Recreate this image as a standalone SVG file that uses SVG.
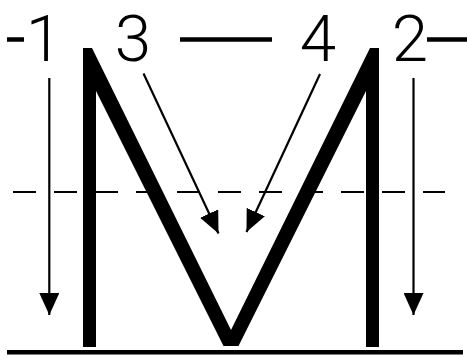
<svg xmlns="http://www.w3.org/2000/svg" width="467" height="358" viewBox="0 0 467 358">
  <style>
    .num { font-family: Roboto, "Liberation Sans", sans-serif; font-weight: 300; font-size: 65.5px; fill: #000; text-anchor: middle; }
    .dash { stroke: #000; stroke-width: 4.5; fill: none; }
    .arrow { stroke: #000; stroke-width: 2.2; fill: none; marker-end: url(#head); }
    .guide { stroke: #000; stroke-width: 2; stroke-dasharray: 23 18; fill: none; }
    .rule { stroke: #000; stroke-width: 4.5; fill: none; }
  </style>
  <defs>
    <marker id="head" markerUnits="userSpaceOnUse" markerWidth="22" markerHeight="20" refX="22" refY="10" orient="auto">
      <path d="M0,0 L22,10 L0,20 z" fill="#000"/>
    </marker>
  </defs>
  <rect width="467" height="358" fill="#fff"/>

  <g id="baseline">
    <line class="rule" x1="7" y1="352.3" x2="463" y2="352.3"/>
  </g>
  <g id="midline">
    <line class="guide" x1="13" y1="192" x2="445" y2="192"/>
  </g>

  <g id="letter-M">
    <polygon fill="#000" points="83,347 83,48 92,48 231,330 370,48 379,48 379,347 366,347 366,91 238.5,346 223.5,346 96,91 96,347"/>
  </g>

  <g id="label-1">
    <line class="dash" x1="7" y1="39.5" x2="24" y2="39.5"/>
    <text class="num" x="44" y="61">1</text>
  </g>
  <g id="label-3">
    <text class="num" x="133" y="61">3</text>
  </g>
  <g id="label-connector-3-4">
    <line class="dash" x1="180" y1="39.5" x2="272" y2="39.5"/>
  </g>
  <g id="label-4">
    <text class="num" x="318" y="61">4</text>
  </g>
  <g id="label-2">
    <text class="num" x="410" y="61">2</text>
    <line class="dash" x1="427" y1="39.5" x2="467" y2="39.5"/>
  </g>

  <g id="connectors">
    <line class="arrow" x1="49.3" y1="78" x2="49.3" y2="315"/>
    <line class="arrow" x1="413.5" y1="78" x2="413.5" y2="315"/>
    <line class="arrow" x1="143.5" y1="73.5" x2="218.5" y2="233.5"/>
    <line class="arrow" x1="320" y1="74" x2="246.5" y2="232"/>
  </g>
</svg>
